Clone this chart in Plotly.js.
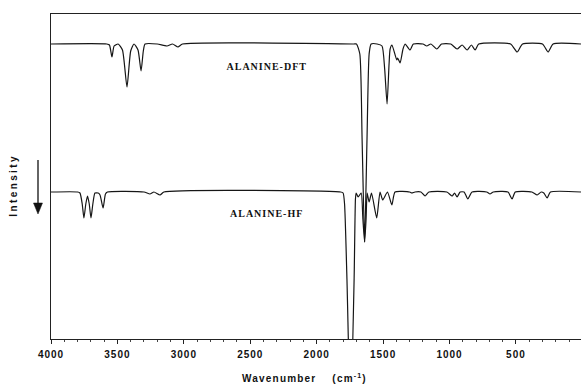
<!DOCTYPE html>
<html>
<head>
<meta charset="utf-8">
<script src="https://cdn.plot.ly/plotly-3.0.1.min.js"></script>
<style>
  html, body { margin: 0; padding: 0; background: #fff; }
  #chart { width: 581px; height: 384px; }
  .xtick text { letter-spacing: 1px; }
  .annotation[data-index="0"] text, .annotation[data-index="1"] text { letter-spacing: 1px; }
  .annotation[data-index="2"] text { letter-spacing: 2.4px; }
  .annotation[data-index="3"] text { letter-spacing: 1.2px; }
</style>
</head>
<body>
<div id="chart"></div>
<script>
// ---- data ----
const dftWavenumber = [4000, 3580, 3560, 3541, 3525, 3495, 3462, 3428, 3400, 3375, 3345, 3322, 3305, 3292,
  3200, 3127, 3085, 3044, 3010, 1720, 1700, 1675, 1658, 1639, 1621, 1605, 1590, 1545, 1508, 1488, 1470,
  1455, 1447, 1433, 1397, 1390, 1372, 1350, 1334, 1297, 1272, 1200, 1171, 1140, 1096, 1060, 990, 943,
  905, 867, 835, 807, 780, 540, 491, 450, 300, 258, 220, 10];
const dftIntensity = [295, 295, 294, 282, 293, 295, 289, 252, 288, 295, 289, 268, 288, 295,
  295, 293, 295, 292, 295, 295, 295, 285, 200, 97, 200, 285, 295, 295, 293, 270, 235,
  275, 290, 294, 279, 281, 276, 290, 295, 289, 295, 295, 293, 295, 290, 295, 295, 290,
  294, 289, 294, 289, 295, 295, 287, 295, 295, 287, 295, 295];

const hfWavenumber = [4000, 3800, 3782, 3765, 3752, 3738, 3725, 3712, 3699, 3685, 3669, 3645, 3631, 3608,
  3590, 3575, 3300, 3255, 3225, 3179, 3150, 1820, 1801, 1790, 1772, 1745, 1718, 1708, 1703, 1688, 1665,
  1652, 1639, 1628, 1620, 1605, 1587, 1548, 1523, 1503, 1467, 1434, 1410, 1300, 1284, 1260, 1215, 1184,
  1155, 1020, 980, 962, 943, 920, 890, 862, 830, 720, 695, 670, 560, 529, 505, 380, 340, 310, 290, 265,
  240, 10];
const hfIntensity = [147, 147, 146, 135, 121, 135, 143, 135, 121, 135, 146, 146, 144, 131,
  145, 147, 147, 145, 147, 144, 147, 147, 146, 135, 60, -80, 60, 140, 146, 142, 146,
  120, 97, 120, 146, 137, 146, 121, 147, 139, 147, 134, 147, 147, 146, 147, 147, 143,
  147, 147, 143, 146, 142, 147, 147, 140, 147, 147, 145, 147, 147, 140, 147, 147, 144, 147, 146, 141,
  147, 147];

const tickValues = [4000, 3500, 3000, 2500, 2000, 1500, 1000, 500];
const tickLabels = ['4000', '3500', '3000', '2500', '2000', '1500', '1000', '500'];
const seriesNames = ['ALANINE-DFT', 'ALANINE-HF'];
const yTitleText = 'Intensity';
const xTitleText = 'Wavenumber\u00A0\u00A0\u00A0\u00A0(cm<sup>-1</sup>)';

// ---- chart ----
const lineStyle = { color: '#161616', width: 1.2, shape: 'spline', smoothing: 0.55 };
const traces = [
  { x: dftWavenumber, y: dftIntensity, type: 'scatter', mode: 'lines', name: seriesNames[0], line: lineStyle, hoverinfo: 'skip' },
  { x: hfWavenumber, y: hfIntensity, type: 'scatter', mode: 'lines', name: seriesNames[1], line: lineStyle, hoverinfo: 'skip' }
];

const labelFont = { family: 'Liberation Serif, Times New Roman, serif', size: 10, color: '#111', weight: 'bold' };
const sansBold = { family: 'Liberation Sans, Arial, sans-serif', size: 10, color: '#111', weight: 'bold' };

const layout = {
  width: 581, height: 384,
  margin: { l: 51, r: 0, t: 14, b: 45, pad: 0 },
  paper_bgcolor: '#fff', plot_bgcolor: '#fff',
  showlegend: false,
  xaxis: {
    range: [4000, 10], autorange: false,
    showline: true, linecolor: '#222', linewidth: 1.3, mirror: true,
    showgrid: false, zeroline: false,
    tickmode: 'array', tickvals: tickValues, ticktext: tickLabels,
    ticks: 'outside', ticklen: 4, tickwidth: 1, tickcolor: '#222',
    ticklabelstandoff: 2,
    minor: { dtick: 100, ticks: 'outside', ticklen: 2, tickwidth: 1, tickcolor: '#444', showgrid: false },
    tickfont: sansBold
  },
  yaxis: {
    range: [0, 325], autorange: false,
    showline: true, linecolor: '#222', linewidth: 1.3, mirror: false,
    showgrid: false, zeroline: false, showticklabels: false, ticks: ''
  },
  shapes: [
    // downward arrow beside the Intensity title
    { type: 'line', xref: 'paper', yref: 'paper', x0: -0.02453, x1: -0.02453, y0: 0.5508, y1: 0.4092,
      line: { color: '#111', width: 1.3 } },
    { type: 'path', xref: 'paper', yref: 'paper',
      path: 'M -0.03302 0.4185 L -0.01604 0.4185 L -0.02453 0.3846 Z',
      fillcolor: '#111', line: { color: '#111', width: 0.5 } }
  ],
  annotations: [
    { xref: 'paper', yref: 'paper', x: 0.4075, y: 0.84, text: seriesNames[0], showarrow: false, font: labelFont, xanchor: 'center', yanchor: 'middle' },
    { xref: 'paper', yref: 'paper', x: 0.4057, y: 0.385, text: seriesNames[1], showarrow: false, font: labelFont, xanchor: 'center', yanchor: 'middle' },
    { xref: 'paper', yref: 'paper', x: -0.0698, y: 0.474, text: yTitleText, showarrow: false, textangle: -90, font: sansBold, xanchor: 'center', yanchor: 'middle' },
    { xref: 'paper', yref: 'paper', x: 0.479, y: -0.12, text: xTitleText, showarrow: false, font: sansBold, xanchor: 'center', yanchor: 'middle' }
  ]
};

Plotly.newPlot('chart', traces, layout, { staticPlot: true, displayModeBar: false });
</script>
</body>
</html>
